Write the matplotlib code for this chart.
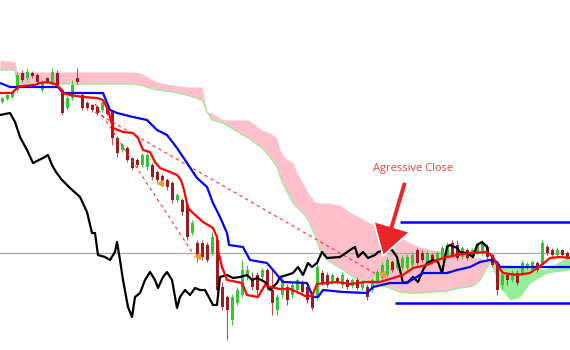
import matplotlib
matplotlib.use("Agg")
import matplotlib.pyplot as plt
import numpy as np
from matplotlib.patches import FancyArrowPatch

# candles (price units, one bar every 5 px)
opens = [248, 251, 253, 260, 277, 272, 277, 275, 260, 272,
         267, 277, 260, 242, 252, 272, 255, 247, 245, 243,
         240, 242, 238, 212, 200, 202, 192, 190, 185, 183,
         185, 178, 174, 170, 167, 150, 150, 145, 117, 107,
         107, 105, 97, 110, 63, 53, 30, 47, 55, 73,
         70, 75, 73, 80, 60, 40, 55, 63, 55, 60,
         67, 63, 53, 53, 77, 75, 68, 72, 65, 70,
         64, 70, 62, 63, 60, 68, 72, 75, 88, 82,
         82, 82, 85, 100, 97, 87, 95, 90, 92, 95,
         107, 105, 93, 100, 94, 98, 97, 103, 95, 85,
         65, 75, 70, 77, 77, 82, 80, 87, 85, 103,
         100, 95, 100, 97]
closes = [252, 255, 258, 275, 270, 278, 274, 268, 268, 268,
          278, 265, 237, 252, 265, 268, 242, 242, 240, 237,
          247, 236, 212, 197, 205, 190, 182, 185, 195, 195,
          173, 170, 168, 163, 150, 155, 138, 113, 127, 92,
          93, 90, 113, 60, 43, 40, 53, 60, 80, 80,
          63, 60, 80, 63, 47, 53, 70, 50, 65, 70,
          58, 50, 42, 83, 67, 65, 75, 68, 75, 63,
          70, 62, 68, 53, 70, 78, 85, 90, 80, 90,
          92, 93, 95, 87, 90, 97, 88, 97, 102, 105,
          95, 92, 102, 92, 100, 105, 108, 93, 85, 60,
          75, 70, 77, 67, 87, 86, 88, 80, 107, 97,
          95, 100, 95, 93]
highs = [253, 256, 259, 278, 280, 282, 279, 277, 270, 273,
         282, 280, 262, 254, 270, 282, 258, 249, 246, 245,
         249, 244, 240, 214, 207, 204, 193, 192, 197, 198,
         187, 180, 176, 172, 169, 157, 152, 147, 130, 110,
         110, 108, 118, 112, 68, 55, 56, 63, 90, 85,
         78, 78, 82, 82, 80, 56, 73, 66, 68, 72,
         70, 66, 56, 88, 80, 78, 77, 74, 78, 72,
         72, 73, 70, 66, 72, 80, 88, 93, 90, 92,
         95, 96, 98, 102, 100, 100, 97, 99, 105, 108,
         110, 110, 104, 102, 102, 107, 110, 106, 97, 87,
         78, 77, 80, 80, 90, 88, 90, 89, 110, 106,
         102, 103, 101, 99]
lows = [247, 250, 252, 258, 268, 270, 272, 266, 258, 267,
        265, 263, 235, 240, 250, 266, 240, 240, 238, 235,
        238, 235, 205, 193, 198, 188, 180, 183, 183, 180,
        170, 168, 166, 160, 147, 148, 135, 110, 115, 88,
        90, 88, 95, 58, 40, 10, 25, 45, 53, 70,
        60, 55, 70, 60, 35, 35, 52, 45, 52, 57,
        55, 47, 40, 50, 65, 63, 66, 66, 62, 61,
        62, 60, 60, 50, 58, 66, 70, 73, 78, 80,
        80, 80, 83, 85, 88, 85, 86, 88, 90, 93,
        93, 90, 91, 90, 92, 96, 95, 91, 83, 55,
        60, 65, 68, 65, 75, 80, 78, 78, 83, 95,
        93, 93, 93, 91]

# ichimoku cloud
cloud_x = [0, 15, 17, 60, 133, 140, 150, 157, 173, 187,
           202, 207, 212, 223, 238, 248, 262, 270, 277, 280,
           285, 293, 297, 303, 308, 315, 320, 327, 340, 347,
           355, 370, 378, 387, 400, 410, 420, 433, 447, 460,
           473, 480, 490, 500, 510, 520, 530, 547, 570]
span_b = [290, 288, 278, 278, 278, 277, 272, 268, 265, 263,
          263, 238, 237, 230, 230, 230, 220, 217, 212, 200,
          192, 187, 177, 167, 157, 148, 147, 147, 145, 140,
          135, 127, 122, 118, 113, 107, 103, 100, 98, 97,
          93, 92, 88, 63, 50, 53, 67, 77, 80]
span_a = [280, 280, 267, 266, 266, 265, 262, 260, 258, 255,
          250, 238, 230, 227, 218, 212, 202, 193, 183, 173,
          162, 147, 143, 137, 130, 115, 100, 90, 82, 77,
          72, 67, 65, 63, 58, 57, 57, 58, 59, 62,
          64, 70, 88, 85, 83, 82, 81, 80, 93]

# kijun (blue)
kijun_x = [0, 10, 58, 63, 103, 110, 117, 133, 147, 157, 167, 177, 187, 197,
           207, 213, 220, 227, 229, 243, 250, 267, 273, 283, 307, 313, 318,
           323, 343, 367, 373, 390, 407, 423, 447, 457, 470, 480, 490, 497,
           500, 570]
kijun = [267, 263, 263, 257, 257, 240, 237, 233, 230, 220, 215, 202, 187, 172,
         163, 147, 133, 117, 105, 103, 90, 87, 80, 68, 67, 53, 53,
         60, 58, 57, 63, 67, 67, 77, 77, 80, 83, 88, 90, 88,
         83, 83]

# tenkan (red)
tenkan_x = [0, 12, 16, 20, 35, 40, 47, 55, 60, 63, 70, 83, 97, 103, 108, 113,
            123, 133, 138, 143, 150, 155, 160, 170, 177, 181, 184, 188, 193,
            203, 213, 217, 218, 222, 227, 242, 247, 258, 265, 270, 280, 290,
            297, 305, 312, 317, 337, 350, 365, 380, 393, 403, 413, 427, 437,
            447, 457, 470, 487, 493, 497, 503, 517, 530, 540, 550, 560, 570]
tenkan = [257, 257, 261, 264, 265, 267, 268, 266, 262, 257, 255, 253, 252, 250,
          240, 222, 218, 217, 212, 200, 198, 188, 182, 178, 175, 170, 160, 142,
          137, 128, 122, 113, 100, 83, 70, 67, 55, 53, 65, 63, 61, 61,
          58, 54, 54, 66, 68, 66, 68, 68, 72, 75, 82, 85, 90,
          93, 95, 97, 98, 93, 85, 77, 75, 77, 84, 92, 93, 92]

# chikou (black)
chikou_x = [0, 10, 15, 20, 27, 33, 43, 48, 52, 56, 62, 70, 80, 87, 92, 95, 98,
            105, 110, 115, 117, 120, 123, 128, 132, 135, 140, 145, 150, 155,
            158, 163, 167, 172, 177, 180, 185, 190, 195, 200, 205, 213, 217,
            220, 227, 233, 240, 247, 252, 257, 265, 270, 277, 280, 287, 293,
            298, 303, 308, 312, 317, 322, 327, 340, 350, 355, 358, 363, 368,
            375, 378, 385, 392, 397, 403, 408, 413, 418, 423, 427, 433, 438,
            442, 447, 450, 457, 460, 467, 473, 477, 482, 487, 488]
chikou = [235, 237, 228, 213, 200, 187, 192, 195, 185, 178, 170, 162, 153, 138,
          117, 117, 95, 93, 90, 98, 108, 90, 70, 43, 33, 53, 57, 70, 78, 70,
          62, 73, 78, 70, 42, 53, 60, 55, 62, 60, 60, 45, 45,
          73, 75, 72, 73, 75, 70, 72, 68, 60, 67, 73, 75, 77,
          83, 75, 87, 83, 87, 98, 92, 93, 100, 103, 93, 98, 92,
          95, 98, 100, 100, 93, 67, 68, 73, 68, 80, 87, 90, 88,
          77, 103, 105, 102, 98, 97, 93, 105, 108, 103, 98]

# dashed trend lines and markers
trend_a_x = [95, 378]
trend_a = [238, 75]
trend_b_x = [95, 192]
trend_b = [246, 98]
mark_x = [160, 197, 382]
mark_y = [167, 94, 76]

ref_level = 97
box_top, box_top_x = 128, [400, 570]
box_bot, box_bot_x = 47, [395, 570]

fig = plt.figure(figsize=(5.7, 3.5), dpi=100)
ax = fig.add_axes([0, 0, 1, 1])
ax.set_xlim(0, 570)
ax.set_ylim(0, 350)
ax.axis("off")

sa = np.array(span_a)
sb = np.array(span_b)
ax.fill_between(cloud_x, sa, sb, where=sb >= sa, color="#ffc0cb",
                interpolate=True, lw=0, zorder=1)
ax.fill_between(cloud_x, sa, sb, where=sa > sb, color="#98ee98",
                interpolate=True, lw=0, zorder=1)
ax.plot(cloud_x, span_a, color="#98ee98", lw=0.9, zorder=1.5)

ax.axhline(ref_level, color="#a8a8a8", lw=0.9, zorder=2)

cx = 2 + 5 * np.arange(len(opens))
o = np.array(opens)
c = np.array(closes)
up = c >= o
ax.vlines(cx[up], np.array(lows)[up], np.array(highs)[up], color="#3cc83c",
          lw=0.8, zorder=3)
ax.vlines(cx[~up], np.array(lows)[~up], np.array(highs)[~up], color="#b85050",
          lw=0.8, zorder=3)
ax.bar(cx[up], (c - o)[up], bottom=o[up], width=3, color="#32c832", zorder=3.5)
ax.bar(cx[~up], (c - o)[~up], bottom=o[~up], width=3, color="#9b1c1c",
       zorder=3.5)

ax.plot(trend_a_x, trend_a, color="#ff3030", lw=0.8, ls=(0, (3, 3)), zorder=4)
ax.plot(trend_b_x, trend_b, color="#ff3030", lw=0.8, ls=(0, (3, 3)), zorder=4)
ax.plot(mark_x, mark_y, ls="none", marker="<", ms=4, color="#f0a030", zorder=4)

ax.plot(chikou_x, chikou, color="black", lw=1.6, zorder=5)
ax.plot(kijun_x, kijun, color="#0000ff", lw=1.6, zorder=5)
ax.plot(tenkan_x, tenkan, color="#ff0000", lw=1.6, zorder=5.5)

ax.hlines(box_top, *box_top_x, color="#0000ff", lw=1.8, zorder=5)
ax.hlines(box_bot, *box_bot_x, color="#0000ff", lw=1.8, zorder=5)

arrow = FancyArrowPatch((405, 168), (383, 94), mutation_scale=1,
                        shrinkA=0, shrinkB=0,
                        arrowstyle="simple,head_width=27,head_length=22,tail_width=4",
                        color="#e8262a", ec="white", lw=1.2, zorder=6)
ax.add_patch(arrow)
ax.text(413, 182, "Agressive Close", color="#e8433f", fontsize=8,
        ha="center", va="center", family=["Open Sans", "DejaVu Sans"], zorder=6)

fig.savefig("out.png", dpi=100)
